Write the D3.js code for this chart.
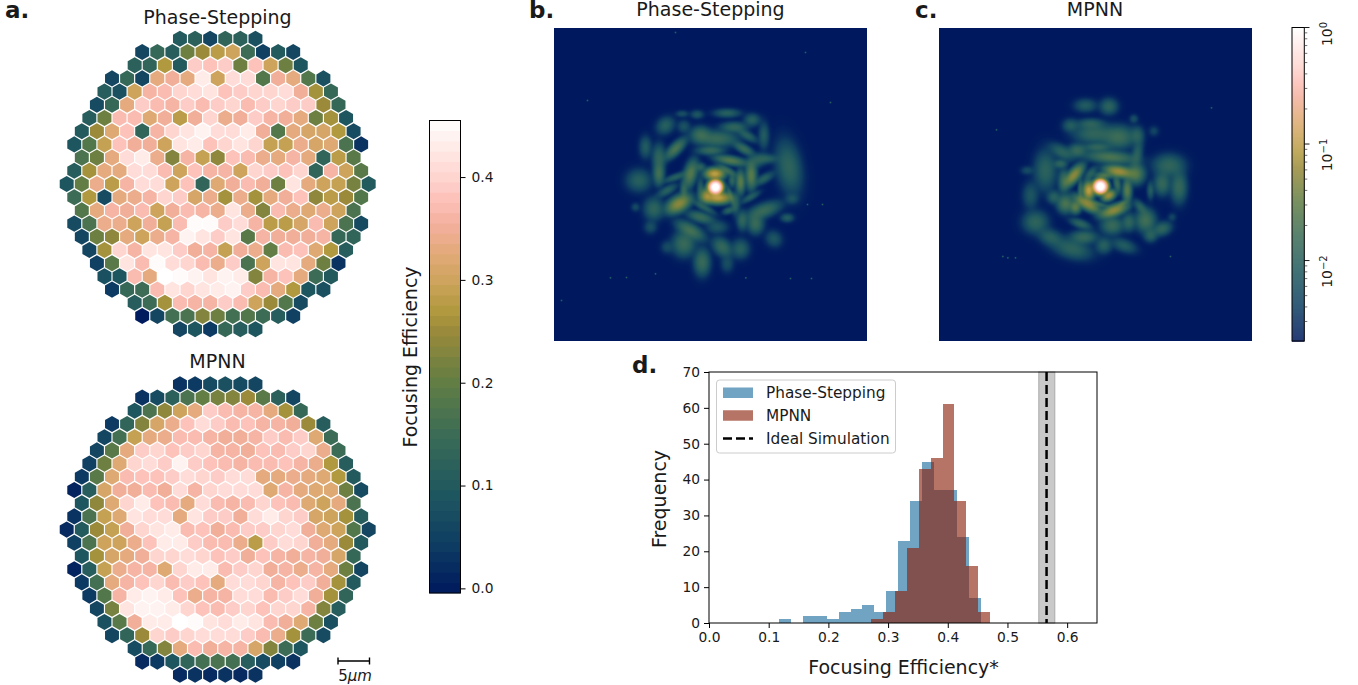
<!DOCTYPE html>
<html><head><meta charset="utf-8">
<script src="https://cdn.jsdelivr.net/npm/d3@7/dist/d3.min.js"></script>
<style>html,body{margin:0;padding:0;background:#fff}svg{display:block}text{font-family:"DejaVu Sans";fill:#1a1a1a}</style>
</head><body><svg id="c" width="1358" height="685"></svg>
<script>
// ---- data: focusing efficiency per pixel (percent), row by row
const phaseSteppingRows=[
[10,12,6,13,12,8],
[6,14,11,21,25,28,30,15,5,10,6],
[12,13,27,10,39,38,39,21,38,30,21,9],
[6,14,6,33,35,33,43,30,41,41,18,35,33,18,8],
[11,8,30,36,37,40,41,42,38,39,40,40,41,35,26,14],
[7,14,33,39,37,36,39,37,39,40,37,39,40,39,39,25,14],
[11,21,37,37,32,35,28,35,40,34,35,39,36,35,33,21,26,9],
[10,25,32,38,13,36,40,42,44,41,41,43,35,18,33,31,31,27,7],
[9,18,29,38,35,35,30,42,43,38,40,42,40,29,29,34,31,32,17,3],
[17,21,33,41,43,34,23,36,29,24,38,37,34,33,36,33,13,28,19],
[11,26,33,33,41,41,37,30,38,36,36,30,40,39,38,40,13,36,30,19],
[9,20,34,28,36,41,41,30,38,13,32,35,37,35,21,42,33,30,29,22,10],
[15,27,7,33,34,36,40,39,31,34,26,34,26,33,35,38,24,28,25,18],
[18,33,36,35,37,30,35,37,36,34,42,34,23,37,34,32,34,30,17],
[7,17,34,34,30,35,29,37,45,45,39,41,36,28,28,31,37,30,17,7],
[6,21,24,33,30,34,36,44,42,39,42,19,36,35,35,35,36,14,13],
[6,26,40,36,42,42,39,35,36,29,35,34,20,37,38,32,27,11],
[5,19,42,37,45,41,40,37,34,39,17,30,42,42,33,21,3],
[8,9,37,33,45.5,45,44,42,44,43,23,36,38,33,15,10],
[4,14,15,37,42,40,42,43,44,39,37,33,27,9,8],
[11,15,26,37,36,36,39,37,30,25,18,7],
[0,6,16,17,23,21,16,18,15,11,5],
[6,9,4,14,11,9]];
const mpnnRows=[
[3,4,7,8,7,6],
[3,7,12,17,20,22,23,25,19,12,6],
[9,17,24,30,33,39,37,36,36,33,26,14],
[4,13,23,31,34,38,41,39,37,38,36,36,35,25,11],
[6,16,29,33,34,37,37,36,35,35,36,39,37,39,32,15],
[6,19,33,39,40,38,39,40,36,36,35,38,37,39,40,34,15],
[5,21,32,40,41,39,44,39,38,37,36,37,37,38,36,34,27,11],
[4,19,32,37,38,38,39,41,40,39,41,41,33,33,34,33,32,27,10],
[1,11,31,35,35,37,35,41,36,40,41,41,41,32,36,33,32,32,21,7],
[9,24,32,40,43,38,37,33,41,37,36,37,40,38,37,32,30,33,17],
[3,17,29,32,42,41,41,33,42,39,39,35,41,43,40,39,31,30,26,11],
[2,10,25,29,35,40,42,43,37,38,35,37,39,39,40,41,35,32,30,18,6],
[5,17,30,30,34,38,43,43,39,37,37,34,28,39,41,40,35,33,25,10],
[9,26,31,33,35,40,40,41,40,38,39,35,38,36,35,36,35,31,14],
[1,11,29,34,36,36,32,40,43,43,37,39,40,35,36,34,36,33,21,6],
[4,16,33,36,38,40,37,39,38,33,41,41,40,36,38,39,35,26,10],
[4,18,36,43,44,43,38,34,36,36,41,41,37,39,41,35,26,13],
[6,22,42,44,44,43,40,38,37,39,40,38,40,40,36,23,11],
[8,19,35,43,43,45.5,45,42,41,43,42,37,35,32,21,8],
[6,13,25,40,39,40,41,41,41,39,37,34,26,15,7],
[7,14,23,33,37,35,36,36,31,23,15,9],
[2,4,9,13,16,17,16,11,7,5,3],
[2,3,2,3,2,3]];
// speckle lobes: [col,row,halfLen,halfWid,angle,intensity]
const speckleB=[[345,230,12,12,0,1.6],[343,190,20,12,0,.09],[352,262,28,12,0,.09],[318,255,12,15,0,.05],
[270,190,14,32,15,.035],[235,280,28,16,-30,.05],[420,215,10,25,0,.04],[452,195,12,30,0,.04],[390,150,35,10,10,.035],[380,180,25,8,30,.02],[430,115,25,10,30,.02],[350,85,45,18,0,.02],[300,72,22,18,0,.02],[400,50,30,12,0,.015],[440,75,25,10,30,.012],[490,75,12,30,0,.01],[455,28,18,14,0,.012],[380,8,30,10,0,.012],[290,12,15,10,0,.008],[245,10,15,8,0,.006],[250,48,15,15,0,.007],[195,45,22,18,-40,.012],[225,115,30,12,-45,.03],[135,110,14,25,0,.01],[175,140,15,30,0,.015],[175,190,12,25,0,.025],[225,200,30,8,-20,.012],[115,210,28,25,0,.012],[160,295,22,25,0,.015],[105,290,10,10,0,.005],[300,320,30,12,15,.02],[270,360,35,15,30,.025],[250,400,25,28,0,.02],[150,350,15,15,0,.006],[200,410,15,15,0,.005],[305,455,18,30,0,.02],[365,410,25,18,45,.018],[420,415,20,22,0,.012],[380,460,15,20,0,.006],[465,340,18,22,0,.02],[425,330,12,22,0,.015],[490,300,40,16,-20,.02],[405,280,10,25,0,.012],[350,350,25,15,0,.008],[520,385,18,20,-45,.008],[560,322,15,10,0,.01],[575,265,15,12,0,.006],[565,170,28,60,-10,.015],[490,205,25,10,-30,.012],[500,145,25,10,0,.01],[300,240,8,30,0,.012],[390,255,6,25,-20,.015],[450,260,25,8,-30,.01],[250,240,8,20,0,.015],
[310,290,30,8,30,.012],[385,300,15,8,-20,.012],[300,170,12,10,0,.012],[395,210,8,15,0,.015],[200,240,25,10,-30,.012],[330,120,30,10,0,.018],[470,150,25,15,-20,.012],
[-117,570,2,2,0,.012],[78,501,2,2,0,.012],[-39,-30,2,2,0,.012],[225,-234,2,2,0,.012],[615,-174,2,2,0,.012],[690,-24,2,2,0,.012],[666,282,2,2,0,.012],[621,282,2,2,0,.012],[570,504,2,2,0,.012],[633,504,2,2,0,.012],[30,502,2,2,0,.012],[165,490,2,2,0,.012],[436,502,2,2,0,.012]];
const speckleC=[[330,288,12,12,0,1.6],[295,300,12,18,0,.09],[355,315,15,10,-30,.06],[340,255,20,8,0,.03],
[385,243,30,12,10,.06],[435,250,20,22,0,.035],[250,255,12,28,40,.05],[220,270,12,25,0,.02],[360,200,55,14,5,.03],[290,340,30,12,30,.05],[255,350,12,14,0,.04],[225,340,18,20,0,.03],[370,360,30,12,-20,.05],[410,300,10,25,0,.04],[465,390,22,25,0,.025],[415,395,15,20,0,.015],[365,405,25,20,0,.02],[280,440,30,15,0,.018],[340,465,18,18,0,.012],[400,465,30,15,20,.01],[480,435,15,15,0,.012],[515,415,22,15,-20,.015],[245,475,45,22,15,.014],[180,440,28,18,20,.012],[135,395,28,25,0,.015],[120,315,18,30,0,.008],[110,240,15,10,0,.005],[165,240,25,45,0,.014],[215,185,30,15,30,.013],[240,105,18,15,0,.01],[285,45,25,15,0,.01],[355,48,20,18,0,.014],[430,85,10,10,0,.006],[490,122,12,12,0,.004],[310,130,45,22,0,.016],[385,140,35,25,0,.022],[440,135,15,20,0,.012],[440,190,12,30,10,.012],[535,225,35,25,0,.016],[515,280,18,25,0,.018],[565,290,18,35,0,.018],[480,300,8,20,0,.01],[545,380,10,10,0,.004],[260,180,20,15,0,.018],
[300,250,10,20,40,.012],[270,300,6,25,0,.018],[320,340,30,6,15,.015],[395,340,15,6,-30,.02],[380,280,8,20,-10,.02],[320,170,30,10,0,.015],[190,320,15,15,0,.012],[450,350,10,20,-40,.012],[270,400,25,10,20,.014],[300,100,30,12,0,.012],[210,220,15,10,0,.014],
[37,498,2,2,0,.012],[52,502,2,2,0,.012],[75,502,2,2,0,.012],[18,118,2,2,0,.012],[663,52,2,2,0,.012],[540,498,2,2,0,.012]];
const histBlue=[1,0,2,2,1,3,4,5,3,9,23,34,45,37,37,24,7];
const histRed=[1,3,9,21,43,46,61,34,16,3];
const blueStart=.1177, redStart=.2718, binW=.0199;
const idealMean=.5655, idealLow=.5525, idealHigh=.5793;
const effTicks=[0,.1,.2,.3,.4];
const legendLabels=["Phase-Stepping","MPNN","Ideal Simulation"];

const svg=d3.select("#c");
const cmap=d3.scaleLinear()
 .domain([0,.11,.22,.33,.44,.55,.6,.66,.72,.78,.83,.88,.94,1])
 .range(["#00195e","#0f3f62","#20595f","#3a6b57","#5f7d45","#98893a","#b29a40","#cda45c","#e3aa7a","#f3b09e","#fdc0b8","#ffd5d0","#ffe9e6","#ffffff"])
 .clamp(true);
const effT=d3.scaleLinear().domain([-.0045,.455]).range([0,1]);
const txt=(x,y,s,size,o={})=>svg.append("text").attr("x",x).attr("y",y).text(s).attr("font-size",size)
  .attr("text-anchor",o.a||"start").attr("font-weight",o.w||null).attr("transform",o.r?`rotate(${o.r} ${x} ${y})`:null);

// ---- a. hex maps
function hexMap(rows,cy){
  const pitch=15.1,rowStep=13.2,R=8.05;
  const yS=d3.scaleLinear().domain([0,22]).range([cy-11*rowStep,cy+11*rowStep]);
  const xS=d3.scaleLinear().domain([-10,10]).range([217.7-10*pitch,217.7+10*pitch]);
  const hex=d3.range(6).map(k=>{const a=Math.PI/3*k+Math.PI/6;return [R*Math.cos(a),R*Math.sin(a)]});
  const path="M"+hex.join("L")+"Z";
  rows.forEach((r,j)=>{
    svg.append("g").selectAll("path").data(r).join("path")
     .attr("d",path).attr("transform",(v,i)=>`translate(${xS(i-(r.length-1)/2)},${yS(j)})`)
     .attr("fill",v=>cmap(effT(v/100)));
  });
}
hexMap(phaseSteppingRows,184);
hexMap(mpnnRows,529.6);
txt(217.5,24,"Phase-Stepping",19,{a:"middle"});
txt(217.5,368,"MPNN",19,{a:"middle"});
txt(5,18,"a.",23,{w:"bold"});txt(529,18,"b.",23,{w:"bold"});txt(915,18,"c.",23,{w:"bold"});txt(632,373,"d.",23,{w:"bold"});

// scale bar
svg.append("path").attr("d","M338 657.5V664.5M338 661H369.5M369.5 657.5V664.5").attr("stroke","#000").attr("stroke-width",1.4).attr("fill","none");
const sb=txt(355,681,"",15,{a:"middle"});sb.append("tspan").text("5");sb.append("tspan").attr("font-style","italic").text("μm");

// ---- efficiency colourbar
const yEff=d3.scaleLinear().domain([-.0045,.455]).range([593,120.5]);
const nb=46,bw=(.455+.0045)/nb;
svg.append("g").selectAll("rect").data(d3.range(nb)).join("rect")
 .attr("x",429.5).attr("width",31).attr("y",i=>yEff(-.0045+(i+1)*bw)-.5).attr("height",i=>yEff(-.0045+i*bw)-yEff(-.0045+(i+1)*bw)+.8)
 .attr("fill",i=>cmap((i+.5)/nb));
svg.append("rect").attr("x",429.5).attr("y",120.5).attr("width",31).attr("height",472.5).attr("fill","none").attr("stroke","#000").attr("stroke-width",1);
const gEff=svg.append("g").attr("transform","translate(460.5,0)").call(d3.axisRight(yEff).tickValues(effTicks).tickSize(5).tickPadding(6).tickFormat(d3.format(".1f")));
gEff.select(".domain").remove();
gEff.selectAll("text").attr("font-size",13.8).attr("font-family","DejaVu Sans").style("fill","#1a1a1a");
txt(416.5,357,"Focusing Efficiency",19,{a:"middle",r:-90});

// ---- b, c far-field images
const vmin=.00204;
const logC=d3.scaleLog().domain([vmin,1]).range([0,1]).clamp(true);
const lobeLevel=v=>v>=.05?v:v*.62; // calibrates faint lobes against the colour bar
function farField(lobes,x0,y0,ox,oy){
  const S=313,can=document.createElement("canvas");can.width=S;can.height=S;
  const ctx=can.getContext("2d"),im=ctx.createImageData(S,S);
  const colS=d3.scaleLinear().domain([0,3]).range([ox-x0,ox-x0+1]);
  const rowS=d3.scaleLinear().domain([0,3]).range([oy-y0,oy-y0+1]);
  const L=lobes.map(([c,r,a,b,ang,v])=>{const t=ang*Math.PI/180;return{x:colS(c),y:rowS(r),sa:a/4,sb:b/4,c:Math.cos(t),s:Math.sin(t),v:lobeLevel(v)}});
  const rgbCache=d3.range(1024).map(i=>d3.rgb(cmap(i/1023)));
  for(let j=0;j<S;j++)for(let i=0;i<S;i++){
    let f=vmin;
    for(const o of L){
      const dx=i-o.x,dy=j-o.y,u=(dx*o.c+dy*o.s)/o.sa,w=(-dx*o.s+dy*o.c)/o.sb,q=u*u+w*w;
      if(q<30)f+=o.v*Math.exp(-.5*q);
    }
    const rgb=rgbCache[Math.round(logC(f)*1023)],p=(j*S+i)*4;
    im.data[p]=rgb.r;im.data[p+1]=rgb.g;im.data[p+2]=rgb.b;im.data[p+3]=255;
  }
  ctx.putImageData(im,0,0);
  svg.append("image").attr("x",x0).attr("y",y0).attr("width",S).attr("height",S).attr("href",can.toDataURL());
}
farField(speckleB,554,28,600,110);
farField(speckleC,939,28,990,90);
txt(710.5,16,"Phase-Stepping",19,{a:"middle"});
txt(1095,16,"MPNN",19,{a:"middle"});

// ---- log colourbar
const yLog=d3.scaleLog().domain([vmin,1]).range([341,27.5]);
svg.append("g").selectAll("rect").data(d3.range(314)).join("rect")
 .attr("x",1292).attr("width",12.3).attr("y",i=>27.5+i).attr("height",1.2).attr("fill",i=>cmap(1-i/313));
svg.append("rect").attr("x",1292).attr("y",27.5).attr("width",12.3).attr("height",313.5).attr("fill","none").attr("stroke","#000").attr("stroke-width",1);
const logMinor=[3e-3,4e-3,5e-3,6e-3,7e-3,8e-3,9e-3,2e-2,3e-2,4e-2,5e-2,6e-2,7e-2,8e-2,9e-2,.2,.3,.4,.5,.6,.7,.8,.9];
const logMajor=[[1,"0"],[.1,"−1"],[.01,"−2"]];
svg.append("g").selectAll("line").data(logMinor).join("line").attr("x1",1304.3).attr("x2",1307.3).attr("y1",yLog).attr("y2",yLog).attr("stroke","#333").attr("stroke-width",.7);
logMajor.forEach(([v,e])=>{
  const y=yLog(v);
  svg.append("line").attr("x1",1304.3).attr("x2",1309.5).attr("y1",y).attr("y2",y).attr("stroke","#000").attr("stroke-width",.9);
  const tl=svg.append("text").attr("transform",`translate(1332,${y+(v===1?6.5:11)}) rotate(-90)`).attr("text-anchor","middle").attr("font-size",14);
  tl.append("tspan").text("10");tl.append("tspan").attr("dy",-5.5).attr("font-size",10).text(e);
});

// ---- d. histogram
const x=d3.scaleLinear().domain([0,.65]).range([709,1097]);
const y=d3.scaleLinear().domain([0,70]).range([623,372]);
const blue="#1a6a9c",red="#891e08";
svg.append("rect").attr("x",x(idealLow)).attr("width",x(idealHigh)-x(idealLow)).attr("y",y(70)).attr("height",y(0)-y(70)).attr("fill","#c9c9c9").attr("stroke","#aaa").attr("stroke-width",1);
const bars=(d,s,c)=>svg.append("g").selectAll("rect").data(d).join("rect")
 .attr("x",(v,i)=>x(s+i*binW)).attr("width",x(binW)-x(0)).attr("y",v=>y(v)).attr("height",v=>y(0)-y(v)).attr("fill",c).attr("fill-opacity",.62).attr("shape-rendering","crispEdges");
bars(histBlue,blueStart,blue);
bars(histRed,redStart,red);
svg.append("line").attr("x1",x(idealMean)).attr("x2",x(idealMean)).attr("y1",y(70)).attr("y2",y(0)).attr("stroke","#000").attr("stroke-width",2.5).attr("stroke-dasharray","9 4");
svg.append("rect").attr("x",709).attr("y",372).attr("width",388).attr("height",251).attr("fill","none").attr("stroke","#000").attr("stroke-width",1);
const gx=svg.append("g").attr("transform","translate(0,623)").call(d3.axisBottom(x).tickValues([0,.1,.2,.3,.4,.5,.6]).tickSize(5).tickPadding(4).tickFormat(d3.format(".1f")));
const gy=svg.append("g").attr("transform","translate(709,0)").call(d3.axisLeft(y).tickValues([0,10,20,30,40,50,60,70]).tickSize(5).tickPadding(4));
[gx,gy].forEach(g=>{g.select(".domain").remove();g.selectAll("text").attr("font-size",13.8).attr("font-family","DejaVu Sans").style("fill","#1a1a1a");});
txt(903.5,674,"Focusing Efficiency*",19,{a:"middle"});
txt(666,499,"Frequency",19,{a:"middle",r:-90});

// legend
svg.append("rect").attr("x",716.5).attr("y",380).attr("width",179).attr("height",73).attr("rx",3).attr("fill","#fff").attr("fill-opacity",.85).attr("stroke","#ccc").attr("stroke-width",1);
const ly=d3.scalePoint().domain(legendLabels).range([393,438.5]);
svg.append("rect").attr("x",723).attr("y",ly(legendLabels[0])-5.5).attr("width",30).attr("height",10.5).attr("fill",blue).attr("fill-opacity",.62);
svg.append("rect").attr("x",723).attr("y",ly(legendLabels[1])-5.5).attr("width",30).attr("height",10.5).attr("fill",red).attr("fill-opacity",.62);
svg.append("line").attr("x1",723).attr("x2",753).attr("y1",ly(legendLabels[2])).attr("y2",ly(legendLabels[2])).attr("stroke","#000").attr("stroke-width",2.5).attr("stroke-dasharray","9 4");
legendLabels.forEach(l=>txt(766,ly(l)+5,l,15.3));
</script></body></html>
